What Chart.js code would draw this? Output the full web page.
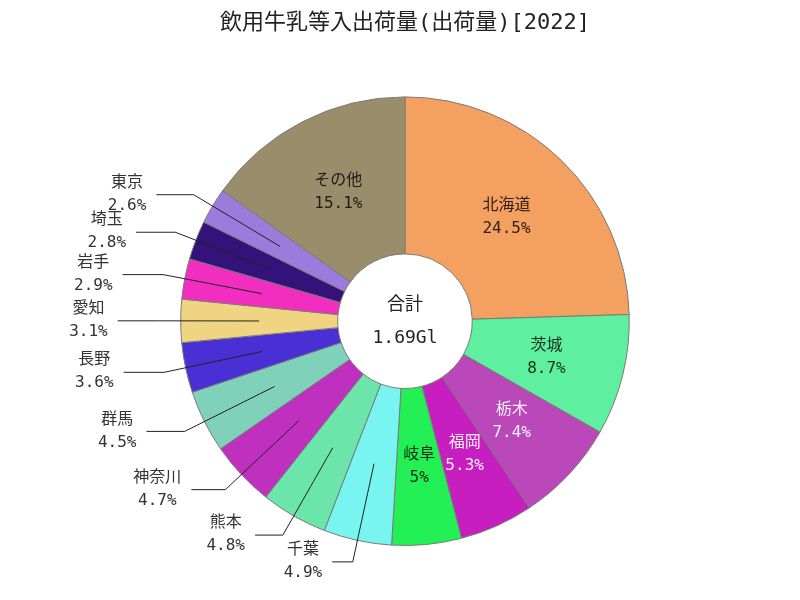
<!DOCTYPE html>
<html>
<head>
<meta charset="utf-8">
<script src="https://cdn.jsdelivr.net/npm/chart.js@4/dist/chart.umd.min.js"></script>
<style>
  html, body { margin: 0; padding: 0; background: #fff; }
  #wrap { width: 800px; height: 600px; }
</style>
</head>
<body>
<div id="wrap"><canvas id="chart" width="800" height="600"></canvas></div>
<script>
// data
var prefectures = ['北海道', '茨城', '栃木', '福岡', '岐阜', '千葉', '熊本', '神奈川', '群馬', '長野', '愛知', '岩手', '埼玉', '東京', 'その他'];
var shares = [24.5, 8.7, 7.4, 5.3, 5, 4.9, 4.8, 4.7, 4.5, 3.6, 3.1, 2.9, 2.8, 2.6, 15.1];
var sliceColors = ['#F4A060', '#5EF0A0', '#BA48B8', '#C71FBF', '#22F055', '#78F5F0', '#6BE5AA', '#BF30BF',
                   '#7FD1BA', '#4A2FD5', '#F0D482', '#F22EC0', '#33127A', '#9B7BDB', '#9A8D6C'];
var titleText = '飲用牛乳等入出荷量(出荷量)[2022]';
var totalCaption = '合計';
var totalLabel = '1.69Gl';

var FONT = "'DejaVu Sans Mono', 'Noto Sans CJK JP', sans-serif";
var INSIDE_MIN = 5; // slices with share >= this get their label inside

function hexToRgb(h) {
	var n = parseInt(h.slice(1), 16);
	return [(n >> 16) & 255, (n >> 8) & 255, n & 255];
}

// dark text on light slices, light text on dark slices
function labelColor(hex) {
	var c = hexToRgb(hex);
	var lum = (0.299 * c[0] + 0.587 * c[1] + 0.114 * c[2]) / 255;
	if (lum < 0.5) {
		return 'rgb(' + c.map(function(v) { return Math.round(v + (255 - v) * 0.92); }).join(',') + ')';
	}
	return 'rgb(' + c.map(function(v) { return Math.round(v * 0.2); }).join(',') + ')';
}

/** draws slice labels, leader lines and the total in the hole */
var labelPlugin = {
	id: 'sliceLabels',
	afterDatasetsDraw: function(chart) {
		var ctx = chart.ctx;
		var meta = chart.getDatasetMeta(0);
		ctx.save();
		ctx.textAlign = 'center';
		ctx.textBaseline = 'middle';

		meta.data.forEach(function(arc, i) {
			var p = arc.getProps(['x', 'y', 'startAngle', 'endAngle', 'innerRadius', 'outerRadius'], true);
			var mid = (p.startAngle + p.endAngle) / 2;
			var midR = (p.innerRadius + p.outerRadius) / 2;
			var name = prefectures[i];
			var value = shares[i] + '%';
			ctx.font = '16px ' + FONT;

			if (shares[i] >= INSIDE_MIN) {
				var lx = p.x + Math.cos(mid) * midR;
				var ly = p.y + Math.sin(mid) * midR;
				ctx.fillStyle = labelColor(sliceColors[i]);
				ctx.fillText(name, lx, ly - 11);
				ctx.fillText(value, lx, ly + 12);
				return;
			}

			// outside label with a leader line
			var sx = p.x + Math.cos(mid) * midR;
			var sy = p.y + Math.sin(mid) * midR;
			var ex = p.x + Math.cos(mid) * (p.outerRadius + 22);
			var ey = p.y + Math.sin(mid) * (p.outerRadius + 22);
			var dir = Math.cos(mid) < 0 ? -1 : 1;
			var hx = ex + dir * (15 + 26 * Math.abs(Math.cos(mid)));

			ctx.strokeStyle = '#222';
			ctx.lineWidth = 1;
			ctx.beginPath();
			ctx.moveTo(sx, sy);
			ctx.lineTo(ex, ey);
			ctx.lineTo(hx, ey);
			ctx.stroke();

			var w = Math.max(ctx.measureText(name).width, ctx.measureText(value).width);
			var tx = hx + dir * (10 + w / 2);
			ctx.fillStyle = '#333';
			ctx.fillText(name, tx, ey - 12);
			ctx.fillText(value, tx, ey + 11);
		});

		// total in the centre
		var c = meta.data[0];
		ctx.fillStyle = '#222';
		ctx.font = '18px ' + FONT;
		ctx.fillText(totalCaption, c.x, c.y - 16);
		ctx.fillText(totalLabel, c.x, c.y + 17);
		ctx.restore();
	}
};

var ctx = document.getElementById('chart').getContext('2d');
var myChart = new Chart(ctx, {
	type: 'doughnut',
	data: {
		labels: prefectures,
		datasets: [{
			data: shares,
			backgroundColor: sliceColors,
			borderColor: '#7a7a7a',
			borderWidth: 1
		}]
	},
	options: {
		responsive: false,
		animation: false,
		cutout: '30%',
		layout: { padding: { left: 10, right: 0, top: 0, bottom: 54 } },
		plugins: {
			legend: { display: false },
			tooltip: { enabled: false },
			title: {
				display: true,
				text: titleText,
				color: '#222',
				font: { size: 22, weight: 'normal', family: FONT },
				padding: { top: 10, bottom: 60 }
			}
		}
	},
	plugins: [labelPlugin]
});
</script>
</body>
</html>
